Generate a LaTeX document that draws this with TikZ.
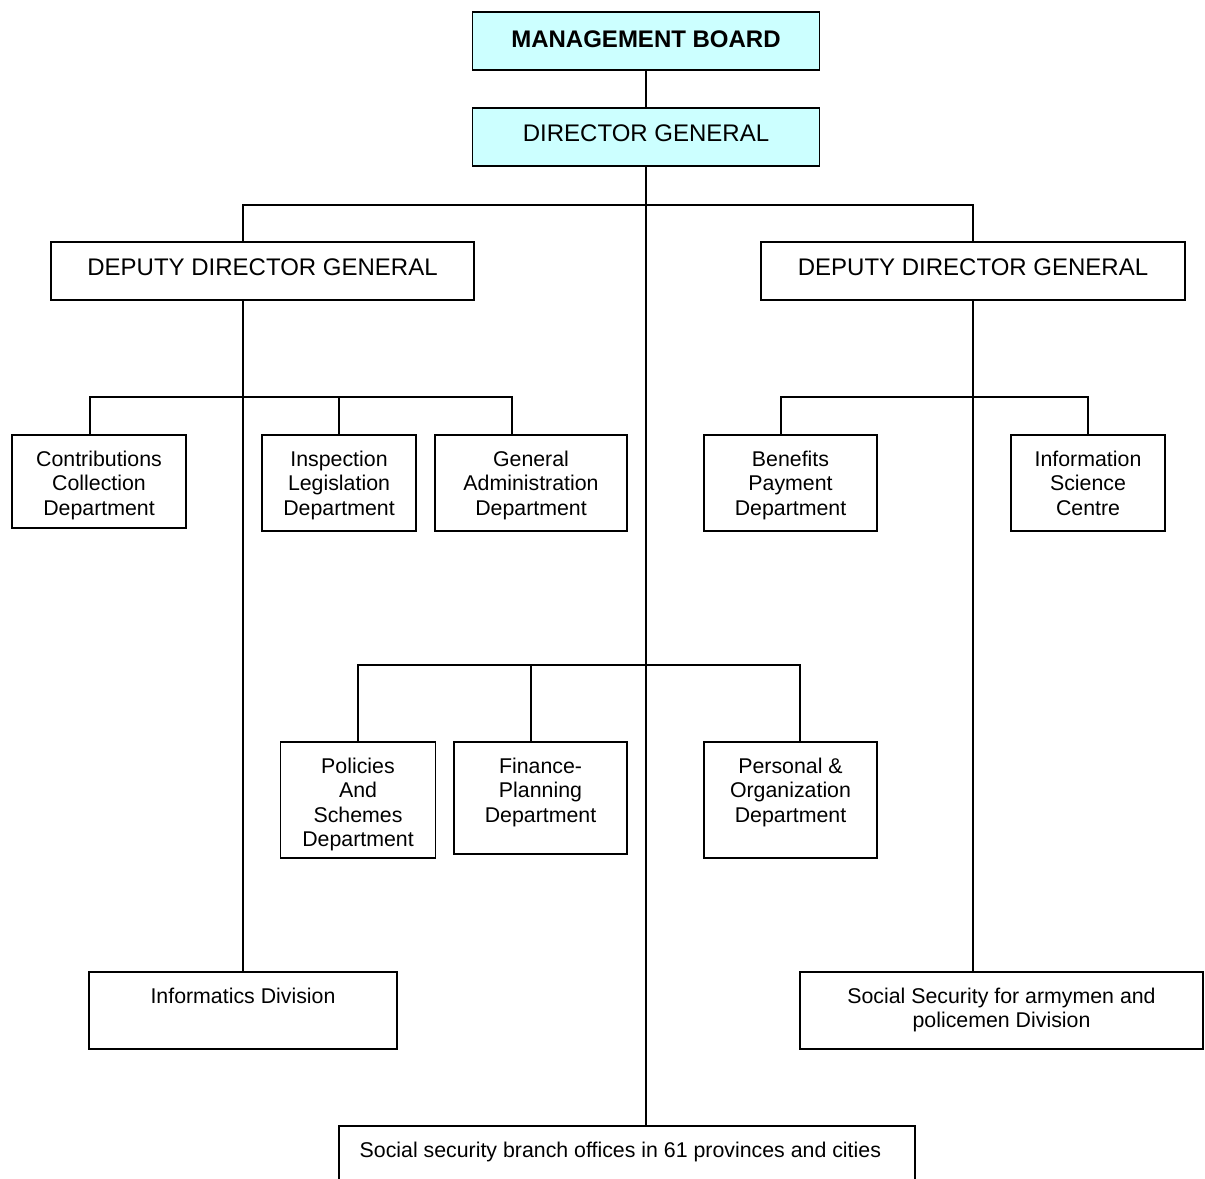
\documentclass[tikz,border=0pt]{standalone}
\usepackage{fontspec}
\setmainfont{Liberation Sans}
\definecolor{boardcyan}{HTML}{CCFFFF}
\tikzset{
	box/.style={draw, line width=1.1pt, inner sep=0pt},
	txtbase/.style={anchor=north, align=center, inner sep=0pt},
	txt/.style={txtbase, yshift=-12pt, font=\fontsize{16}{18.4}\selectfont},
	bigtxt/.style={txtbase, yshift=-13pt, font=\fontsize{18}{21}\selectfont},
	link/.style={line width=1.1pt}
}
\begin{document}
\begin{tikzpicture}[x=0.75pt, y=-0.75pt]
		\clip (0,0) rectangle (1205,1178);
		\fill[white] (0,0) rectangle (1205,1178);
		
		\node[box, fill=boardcyan, minimum width=347*0.75pt, minimum height=58*0.75pt, label={[bigtxt, yshift=-1.5pt]north:\textbf{MANAGEMENT BOARD}}] (mb) at (646,41) {};
		\node[box, fill=boardcyan, minimum width=347*0.75pt, minimum height=58*0.75pt, label={[bigtxt]north:DIRECTOR GENERAL}] (dg) at (646,137) {};
		\node[box, minimum width=423*0.75pt, minimum height=58*0.75pt, label={[bigtxt]north:DEPUTY DIRECTOR GENERAL}] (ddgL) at (262.5,271) {};
		\node[box, minimum width=424*0.75pt, minimum height=58*0.75pt, label={[bigtxt]north:DEPUTY DIRECTOR GENERAL}] (ddgR) at (973,271) {};
		
		\node[box, minimum width=174*0.75pt, minimum height=93*0.75pt, label={[txt]north:Contributions\\Collection\\Department}] (contrib) at (99,481.5) {};
		\node[box, minimum width=154*0.75pt, minimum height=96*0.75pt, label={[txt]north:Inspection\\Legislation\\Department}] (inspect) at (339,483) {};
		\node[box, minimum width=192*0.75pt, minimum height=96*0.75pt, label={[txt]north:General\\Administration\\Department}] (genadmin) at (531,483) {};
		\node[box, minimum width=173*0.75pt, minimum height=96*0.75pt, label={[txt]north:Benefits\\Payment\\Department}] (benefits) at (790.5,483) {};
		\node[box, minimum width=154*0.75pt, minimum height=96*0.75pt, label={[txt]north:Information\\Science\\Centre}] (infosci) at (1088,483) {};
		
		\node[box, minimum width=155*0.75pt, minimum height=116*0.75pt, label={[txt]north:Policies\\And\\Schemes\\Department}] (policies) at (358,800) {};
		\node[box, minimum width=173*0.75pt, minimum height=112*0.75pt, label={[txt]north:Finance-\\Planning\\Department}] (finance) at (540.5,798) {};
		\node[box, minimum width=173*0.75pt, minimum height=116*0.75pt, label={[txt]north:Personal \&\\Organization\\Department}] (personal) at (790.5,800) {};
		
		\node[box, minimum width=308*0.75pt, minimum height=77*0.75pt, label={[txt]north:Informatics Division}] (informatics) at (243,1010.5) {};
		\node[box, minimum width=403*0.75pt, minimum height=77*0.75pt, label={[txt]north:Social Security for armymen and\\policemen Division}] (armymen) at (1001.5,1010.5) {};
		\node[box, minimum width=576*0.75pt, minimum height=90*0.75pt, label={[txt, xshift=-5pt]north:Social security branch offices in 61 provinces and cities}] (branch) at (627,1171) {};
		
		\coordinate (busTop) at (646,205);
		\coordinate (busL) at (243,397);
		\coordinate (busR) at (973,397);
		\coordinate (busM) at (646,665);
		
		\draw[link] (mb) -- (dg);
		\draw[link] (dg.south) -- (dg.south |- branch.north);
		\draw[link] (ddgL.north -| informatics.north) |- (busTop) -| (ddgR.north);
		\draw[link] (ddgL.south -| informatics.north) -- (informatics.north);
		\draw[link] (ddgR.south) -- (ddgR.south |- armymen.north);
		
		\draw[link] ([xshift=-6.75pt]contrib.north) |- (busL) -| ([xshift=-14.25pt]genadmin.north);
		\draw[link] (inspect.north) -- (inspect.north |- busL);
		\draw[link] ([xshift=-7.1pt]benefits.north) |- (busR) -| (infosci.north);
		
		\draw[link] (policies.north) |- (busM) -| ([xshift=7.1pt]personal.north);
		\draw[link] ([xshift=-7.1pt]finance.north) -- ([xshift=-7.1pt]finance.north |- busM);
		\end{tikzpicture}
\end{document}
